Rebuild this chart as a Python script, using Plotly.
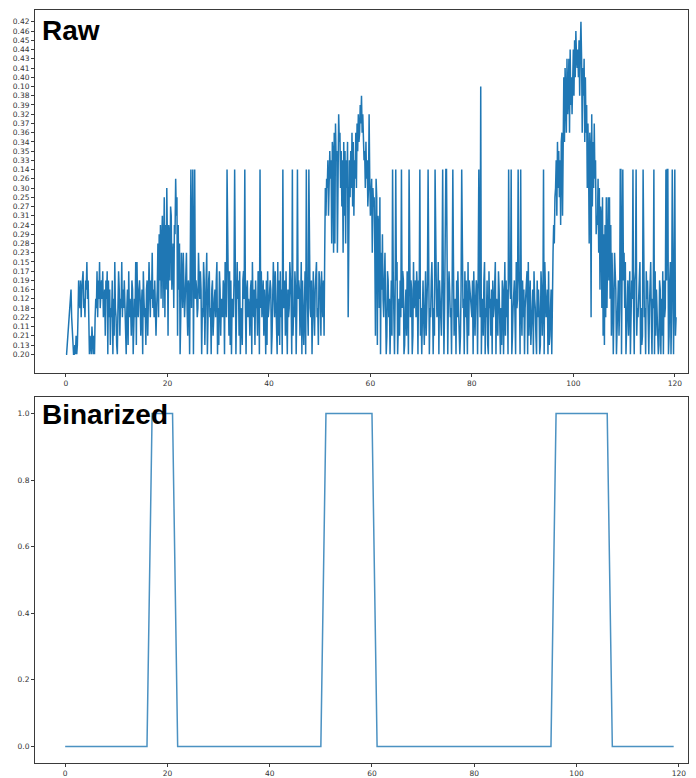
import numpy as np
import plotly.graph_objects as go

# Raw sensor readings, 8 samples per time unit (one row per unit, 0 .. 120)
raw_values = [
    0.20, 0.20, 0.13, 0.21, 0.11, 0.22, 0.18, 0.12,
    0.16, 0.22, 0.21, 0.13, 0.20, 0.20, 0.13, 0.20,
    0.21, 0.20, 0.13, 0.22, 0.19, 0.12, 0.18, 0.19,
    0.22, 0.16, 0.19, 0.17, 0.18, 0.12, 0.22, 0.19,
    0.16, 0.15, 0.12, 0.19, 0.22, 0.20, 0.21, 0.13,
    0.20, 0.11, 0.13, 0.20, 0.21, 0.20, 0.22, 0.12,
    0.18, 0.17, 0.22, 0.19, 0.12, 0.15, 0.18, 0.16,
    0.19, 0.12, 0.17, 0.22, 0.18, 0.16, 0.21, 0.19,
    0.12, 0.17, 0.20, 0.19, 0.22, 0.16, 0.13, 0.18,
    0.22, 0.19, 0.20, 0.12, 0.21, 0.15, 0.18, 0.22,
    0.13, 0.20, 0.18, 0.17, 0.16, 0.21, 0.12, 0.18,
    0.15, 0.22, 0.16, 0.18, 0.19, 0.12, 0.21, 0.20,
    0.18, 0.16, 0.13, 0.17, 0.22, 0.12, 0.18, 0.21,
    0.19, 0.16, 0.20, 0.18, 0.12, 0.22, 0.15, 0.13,
    0.15, 0.18, 0.22, 0.16, 0.19, 0.12, 0.21, 0.18,
    0.16, 0.20, 0.17, 0.12, 0.22, 0.18, 0.13, 0.16,
    0.19, 0.21, 0.12, 0.15, 0.16, 0.22, 0.19, 0.12,
    0.23, 0.18, 0.16, 0.22, 0.19, 0.12, 0.21, 0.18,
    0.16, 0.28, 0.22, 0.29, 0.19, 0.24, 0.12, 0.28,
    0.31, 0.18, 0.27, 0.25, 0.22, 0.24, 0.16, 0.30,
    0.28, 0.21, 0.24, 0.29, 0.19, 0.27, 0.31, 0.16,
    0.23, 0.28, 0.18, 0.24, 0.29, 0.26, 0.31, 0.25,
    0.21, 0.24, 0.16, 0.28, 0.20, 0.22, 0.23, 0.19,
    0.18, 0.23, 0.16, 0.22, 0.12, 0.19, 0.23, 0.18,
    0.21, 0.19, 0.16, 0.20, 0.14, 0.14, 0.18, 0.14,
    0.14, 0.20, 0.14, 0.14, 0.12, 0.19, 0.16, 0.22,
    0.18, 0.23, 0.19, 0.12, 0.17, 0.16, 0.20, 0.18,
    0.22, 0.15, 0.19, 0.13, 0.18, 0.16, 0.23, 0.20,
    0.12, 0.19, 0.17, 0.22, 0.18, 0.20, 0.16, 0.19,
    0.21, 0.18, 0.12, 0.16, 0.22, 0.19, 0.15, 0.20,
    0.18, 0.13, 0.17, 0.16, 0.21, 0.12, 0.18, 0.22,
    0.19, 0.16, 0.20, 0.15, 0.12, 0.22, 0.14, 0.19,
    0.16, 0.21, 0.17, 0.13, 0.19, 0.20, 0.12, 0.18,
    0.22, 0.19, 0.14, 0.16, 0.20, 0.18, 0.15, 0.12,
    0.19, 0.21, 0.17, 0.20, 0.18, 0.22, 0.13, 0.19,
    0.17, 0.12, 0.14, 0.18, 0.20, 0.16, 0.19, 0.22,
    0.12, 0.18, 0.21, 0.16, 0.19, 0.20, 0.15, 0.18,
    0.22, 0.16, 0.13, 0.19, 0.18, 0.12, 0.21, 0.17,
    0.19, 0.20, 0.14, 0.18, 0.17, 0.22, 0.12, 0.19,
    0.21, 0.16, 0.18, 0.20, 0.19, 0.13, 0.17, 0.22,
    0.18, 0.12, 0.19, 0.16, 0.20, 0.21, 0.18, 0.15,
    0.16, 0.22, 0.17, 0.12, 0.18, 0.20, 0.15, 0.21,
    0.19, 0.13, 0.17, 0.22, 0.16, 0.20, 0.14, 0.18,
    0.12, 0.19, 0.21, 0.17, 0.18, 0.20, 0.16, 0.22,
    0.18, 0.15, 0.19, 0.12, 0.20, 0.14, 0.21, 0.18,
    0.22, 0.17, 0.16, 0.20, 0.18, 0.14, 0.12, 0.19,
    0.16, 0.21, 0.18, 0.15, 0.20, 0.19, 0.22, 0.13,
    0.18, 0.17, 0.20, 0.14, 0.19, 0.12, 0.21, 0.14,
    0.16, 0.18, 0.22, 0.19, 0.20, 0.12, 0.17, 0.18,
    0.21, 0.16, 0.19, 0.15, 0.22, 0.18, 0.13, 0.17,
    0.19, 0.12, 0.21, 0.17, 0.18, 0.22, 0.19, 0.21,
    0.23, 0.30, 0.31, 0.26, 0.30, 0.33, 0.31, 0.26,
    0.35, 0.26, 0.33, 0.28, 0.34, 0.35, 0.23, 0.36,
    0.28, 0.37, 0.33, 0.35, 0.23, 0.37, 0.32, 0.34,
    0.36, 0.30, 0.35, 0.27, 0.33, 0.23, 0.34, 0.31,
    0.35, 0.28, 0.33, 0.30, 0.34, 0.22, 0.26, 0.33,
    0.25, 0.35, 0.30, 0.36, 0.27, 0.34, 0.31, 0.33,
    0.26, 0.36, 0.30, 0.37, 0.35, 0.32, 0.34, 0.36,
    0.39, 0.37, 0.38, 0.36, 0.32, 0.34, 0.33, 0.35,
    0.30, 0.34, 0.26, 0.33, 0.27, 0.30, 0.32, 0.26,
    0.31, 0.25, 0.26, 0.23, 0.30, 0.27, 0.25, 0.23,
    0.21, 0.26, 0.25, 0.13, 0.31, 0.24, 0.18, 0.25,
    0.20, 0.23, 0.16, 0.29, 0.12, 0.22, 0.19, 0.23,
    0.18, 0.20, 0.21, 0.17, 0.19, 0.22, 0.12, 0.20,
    0.16, 0.19, 0.21, 0.14, 0.17, 0.22, 0.20, 0.12,
    0.14, 0.19, 0.15, 0.20, 0.18, 0.12, 0.21, 0.19,
    0.22, 0.14, 0.18, 0.17, 0.19, 0.20, 0.13, 0.18,
    0.16, 0.21, 0.17, 0.12, 0.20, 0.14, 0.18, 0.22,
    0.19, 0.16, 0.20, 0.21, 0.15, 0.18, 0.12, 0.19,
    0.22, 0.17, 0.16, 0.20, 0.19, 0.12, 0.14, 0.21,
    0.18, 0.20, 0.16, 0.19, 0.22, 0.13, 0.18, 0.17,
    0.21, 0.12, 0.19, 0.14, 0.17, 0.20, 0.18, 0.22,
    0.19, 0.15, 0.12, 0.20, 0.18, 0.21, 0.14, 0.19,
    0.16, 0.22, 0.18, 0.15, 0.20, 0.19, 0.12, 0.18,
    0.21, 0.17, 0.14, 0.16, 0.20, 0.18, 0.14, 0.14,
    0.14, 0.18, 0.20, 0.12, 0.17, 0.16, 0.22, 0.18,
    0.20, 0.19, 0.14, 0.15, 0.21, 0.18, 0.12, 0.20,
    0.19, 0.22, 0.17, 0.18, 0.13, 0.20, 0.21, 0.16,
    0.14, 0.19, 0.18, 0.12, 0.20, 0.17, 0.22, 0.19,
    0.18, 0.20, 0.15, 0.21, 0.19, 0.16, 0.12, 0.18,
    0.22, 0.19, 0.20, 0.17, 0.18, 0.21, 0.12, 0.19,
    0.16, 0.20, 0.17, 0.14, 0.19, 0.22, 0.10, 0.20,
    0.18, 0.12, 0.21, 0.19, 0.15, 0.20, 0.18, 0.22,
    0.19, 0.13, 0.20, 0.17, 0.18, 0.12, 0.21, 0.16,
    0.20, 0.19, 0.22, 0.18, 0.16, 0.15, 0.20, 0.12,
    0.18, 0.21, 0.17, 0.16, 0.22, 0.20, 0.18, 0.13,
    0.19, 0.16, 0.20, 0.12, 0.15, 0.21, 0.19, 0.22,
    0.16, 0.20, 0.14, 0.17, 0.19, 0.12, 0.14, 0.20,
    0.21, 0.18, 0.16, 0.19, 0.22, 0.20, 0.15, 0.18,
    0.12, 0.14, 0.17, 0.16, 0.20, 0.14, 0.18, 0.21,
    0.19, 0.22, 0.16, 0.20, 0.18, 0.12, 0.19, 0.17,
    0.20, 0.15, 0.21, 0.16, 0.19, 0.13, 0.22, 0.18,
    0.16, 0.20, 0.17, 0.12, 0.18, 0.21, 0.20, 0.19,
    0.22, 0.16, 0.18, 0.20, 0.13, 0.17, 0.16, 0.21,
    0.18, 0.14, 0.20, 0.15, 0.12, 0.22, 0.18, 0.16,
    0.20, 0.17, 0.13, 0.21, 0.18, 0.16, 0.20, 0.19,
    0.23, 0.24, 0.28, 0.25, 0.30, 0.33, 0.31, 0.34,
    0.30, 0.35, 0.25, 0.33, 0.24, 0.34, 0.36, 0.31,
    0.36, 0.40, 0.34, 0.41, 0.38, 0.36, 0.43, 0.32,
    0.38, 0.43, 0.36, 0.44, 0.39, 0.40, 0.32, 0.43,
    0.44, 0.38, 0.45, 0.40, 0.46, 0.43, 0.41, 0.44,
    0.40, 0.45, 0.38, 0.44, 0.42, 0.43, 0.36, 0.41,
    0.38, 0.43, 0.34, 0.40, 0.36, 0.39, 0.30, 0.37,
    0.33, 0.28, 0.36, 0.35, 0.22, 0.32, 0.27, 0.34,
    0.30, 0.37, 0.26, 0.33, 0.29, 0.31, 0.24, 0.26,
    0.23, 0.30, 0.16, 0.27, 0.31, 0.18, 0.25, 0.21,
    0.29, 0.13, 0.24, 0.22, 0.25, 0.18, 0.27, 0.25,
    0.19, 0.25, 0.12, 0.24, 0.21, 0.23, 0.16, 0.20,
    0.18, 0.23, 0.17, 0.16, 0.20, 0.22, 0.12, 0.19,
    0.21, 0.18, 0.14, 0.14, 0.20, 0.16, 0.14, 0.19,
    0.23, 0.18, 0.15, 0.20, 0.22, 0.12, 0.19, 0.21,
    0.18, 0.17, 0.20, 0.22, 0.19, 0.12, 0.14, 0.18,
    0.20, 0.19, 0.17, 0.14, 0.21, 0.18, 0.22, 0.12,
    0.19, 0.15, 0.20, 0.18, 0.13, 0.21, 0.14, 0.19,
    0.22, 0.18, 0.20, 0.17, 0.12, 0.19, 0.21, 0.20,
    0.18, 0.19, 0.15, 0.22, 0.20, 0.12, 0.18, 0.14,
    0.20, 0.17, 0.21, 0.16, 0.18, 0.22, 0.20, 0.13,
    0.19, 0.16, 0.20, 0.12, 0.21, 0.17, 0.20, 0.19,
    0.22, 0.18, 0.14, 0.19, 0.14, 0.14, 0.20, 0.21,
    0.19, 0.15, 0.20, 0.18, 0.14, 0.21, 0.20, 0.19,
    0.14, 0.21, 0.22,
]
sample_step = 0.125

# Readings are plotted as text categories, stacked in order of first appearance
raw_levels = [
    "0.20", "0.13", "0.21", "0.11", "0.22", "0.18", "0.12", "0.16", "0.19", "0.17",
    "0.15", "0.23", "0.28", "0.29", "0.24", "0.31", "0.27", "0.25", "0.30", "0.26",
    "0.14", "0.33", "0.35", "0.34", "0.36", "0.37", "0.32", "0.39", "0.38", "0.10",
    "0.40", "0.41", "0.43", "0.44", "0.45", "0.46", "0.42",
]

# Thresholded signal, one value per time unit
binary_values = [
    0, 0, 0, 0, 0, 0, 0, 0, 0, 0, 0, 0, 0, 0, 0, 0, 0, 1, 1, 1,
    1, 1, 0, 0, 0, 0, 0, 0, 0, 0, 0, 0, 0, 0, 0, 0, 0, 0, 0, 0,
    0, 0, 0, 0, 0, 0, 0, 0, 0, 0, 0, 1, 1, 1, 1, 1, 1, 1, 1, 1,
    1, 0, 0, 0, 0, 0, 0, 0, 0, 0, 0, 0, 0, 0, 0, 0, 0, 0, 0, 0,
    0, 0, 0, 0, 0, 0, 0, 0, 0, 0, 0, 0, 0, 0, 0, 0, 1, 1, 1, 1,
    1, 1, 1, 1, 1, 1, 1, 0, 0, 0, 0, 0, 0, 0, 0, 0, 0, 0, 0, 0,
]

x_ticks = [0, 20, 40, 60, 80, 100, 120]
binary_ticks = [0.0, 0.2, 0.4, 0.6, 0.8, 1.0]

W, H = 696, 778
BLUE = "#1f77b4"
SPINE = "#3a3a3a"
TICK_FONT = dict(family="DejaVu Sans", size=7.5, color="#333333")

raw_time = np.arange(len(raw_values)) * sample_step
raw_labels = [f"{v:.2f}" for v in raw_values]
binary_time = np.arange(len(binary_values))


def px_x(p):
    return p / W


def px_y(p):
    return 1 - p / H


fig = go.Figure()
fig.add_trace(go.Scatter(
    x=raw_time, y=raw_labels, mode="lines",
    line=dict(color=BLUE, width=1.5), xaxis="x", yaxis="y",
    showlegend=False,
))
fig.add_trace(go.Scatter(
    x=binary_time, y=binary_values, mode="lines",
    line=dict(color=BLUE, width=1.5), opacity=0.8, xaxis="x2", yaxis="y2",
    showlegend=False,
))

axis_common = dict(
    showline=True, mirror=True, linecolor=SPINE, linewidth=1,
    ticks="outside", ticklen=3, tickwidth=1, tickcolor=SPINE,
    showgrid=False, zeroline=False, tickfont=TICK_FONT,
)

fig.update_layout(
    width=W, height=H,
    margin=dict(l=0, r=0, t=0, b=0),
    paper_bgcolor="white", plot_bgcolor="white",
    xaxis=dict(
        domain=[px_x(35), px_x(688)], range=[-6.1, 122.6],
        tickvals=x_ticks, anchor="y", **axis_common,
    ),
    yaxis=dict(
        domain=[px_y(376), px_y(10)], type="category",
        categoryorder="array", categoryarray=raw_levels,
        tickvals=raw_levels, range=[-2.04, 37.29], anchor="x",
        **axis_common,
    ),
    xaxis2=dict(
        domain=[px_x(35), px_x(688)], range=[-5.9, 121.8],
        tickvals=x_ticks, anchor="y2", **axis_common,
    ),
    yaxis2=dict(
        domain=[px_y(769), px_y(400)], range=[-0.05, 1.05],
        tickvals=binary_ticks, tickformat=".1f", anchor="x2",
        **axis_common,
    ),
)

title_font = dict(family="Liberation Sans, Arial, sans-serif", size=28, color="black")
for text, top in (("Raw", 13), ("Binarized", 400)):
    fig.add_annotation(
        text=f"<b>{text}</b>", xref="paper", yref="paper",
        x=px_x(40), y=px_y(top), xanchor="left", yanchor="top",
        showarrow=False, font=title_font,
    )

fig.write_html("out.html")
